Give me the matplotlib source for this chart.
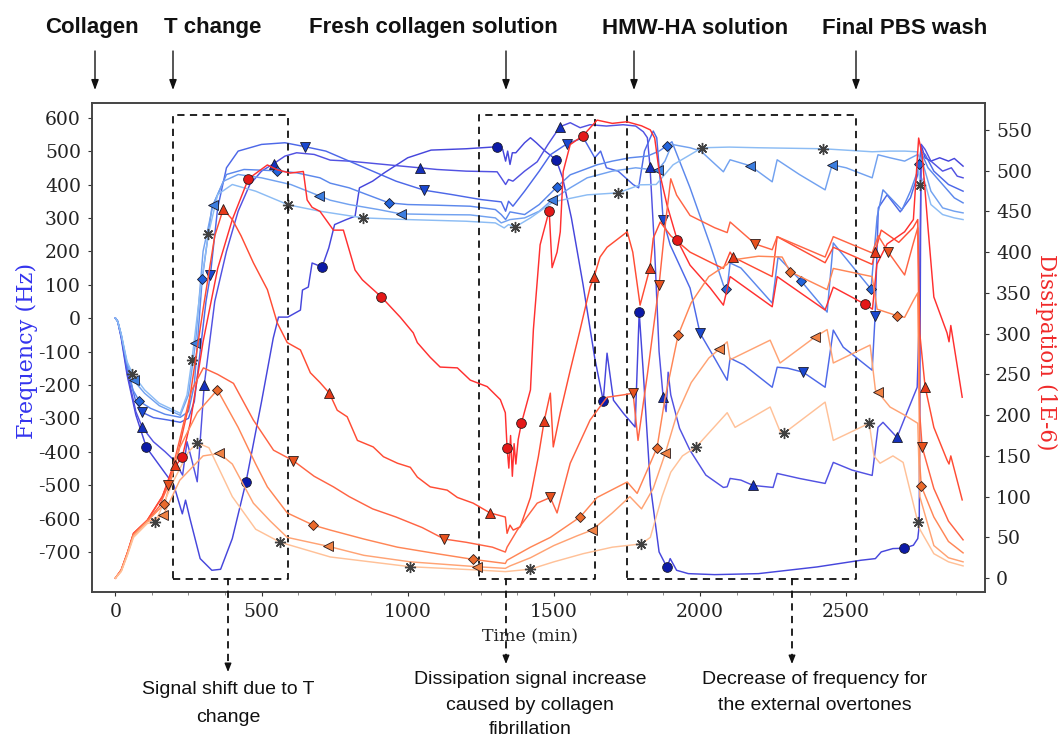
import matplotlib
matplotlib.use("Agg")
import matplotlib.pyplot as plt
from matplotlib.lines import Line2D

plt.rcParams['axes.unicode_minus'] = False

# ---------------- Frequency overtones (Hz) ----------------
f1_t = [0, 8, 20, 40, 70, 106, 150, 200, 229, 240, 255, 290, 330, 360, 400, 447, 500, 540, 558, 590, 633, 640, 660, 673, 707, 730, 750, 790, 820, 835, 880, 920, 1000, 1080, 1200, 1306, 1325, 1335, 1342, 1350, 1358, 1370, 1400, 1420, 1440, 1470, 1508, 1530, 1560, 1600, 1640, 1669, 1682, 1704, 1738, 1778, 1792, 1805, 1830, 1860, 1887, 1898, 1920, 1960, 2050, 2200, 2400, 2550, 2600, 2620, 2660, 2698, 2730, 2745, 2750, 2756, 2770, 2790, 2820, 2850, 2870, 2900]
f1_v = [0, -10, -60, -170, -290, -387, -440, -500, -586, -545, -600, -720, -755, -752, -660, -490, -250, -60, 3, 3, 24, 84, 93, 165, 153, 210, 280, 295, 305, 390, 410, 435, 480, 503, 507, 513, 505, 470, 500, 460, 495, 495, 525, 540, 525, 500, 474, 420, 300, 100, -120, -248, -105, -246, -285, -326, 17, -150, -500, -700, -746, -720, -755, -765, -768, -765, -745, -725, -720, -700, -690, -689, -680, -660, -620, 520, 480, 470, 480, 470, 478, 455]
f1_mt = [106, 447, 707, 1306, 1508, 1669, 1792, 1887, 2698]
f1_mv = [-387, -490, 153, 513, 474, -248, 17, -746, -689]

f2_t = [0, 8, 20, 40, 70, 92, 130, 170, 200, 230, 245, 260, 280, 304, 340, 380, 420, 460, 500, 541, 580, 620, 680, 735, 800, 860, 920, 980, 1041, 1100, 1200, 1306, 1320, 1335, 1345, 1360, 1400, 1443, 1480, 1521, 1556, 1590, 1624, 1680, 1737, 1780, 1806, 1820, 1829, 1845, 1860, 1874, 1884, 1891, 1900, 1930, 1966, 2020, 2080, 2093, 2103, 2140, 2182, 2250, 2264, 2340, 2428, 2456, 2520, 2589, 2609, 2626, 2674, 2700, 2729, 2743, 2750, 2757, 2770, 2790, 2830, 2860, 2880, 2900]
f2_v = [0, -10, -55, -160, -280, -327, -370, -400, -425, -470, -370, -420, -490, -200, 50, 200, 320, 400, 440, 462, 485, 495, 490, 473, 470, 465, 460, 455, 450, 445, 440, 438, 420, 400, 415, 410, 440, 468, 520, 573, 585, 570, 579, 575, 579, 575, 558, 540, 453, 200, -100, -237, -280, -162, -230, -330, -396, -470, -507, -505, -480, -485, -501, -507, -465, -480, -495, -432, -455, -471, -327, -312, -357, -300, -237, -207, 0, 520, 505, 470, 440, 450, 425, 420]
f2_mt = [92, 304, 541, 1041, 1521, 1829, 1874, 2182, 2674]
f2_mv = [-327, -200, 462, 450, 573, 453, -237, -501, -357]

f3_t = [0, 8, 20, 40, 70, 92, 130, 180, 222, 250, 270, 290, 310, 325, 350, 380, 420, 500, 580, 650, 720, 800, 880, 960, 1056, 1150, 1250, 1320, 1335, 1345, 1360, 1400, 1450, 1488, 1545, 1601, 1640, 1660, 1680, 1720, 1771, 1790, 1810, 1840, 1852, 1865, 1874, 1898, 1966, 2000, 2050, 2093, 2103, 2150, 2247, 2264, 2300, 2353, 2428, 2456, 2490, 2589, 2599, 2610, 2640, 2685, 2720, 2745, 2755, 2770, 2800, 2850, 2900]
f3_v = [0, -10, -52, -150, -250, -282, -298, -305, -312, -300, -250, -100, 50, 129, 330, 450, 500, 520, 525, 513, 500, 470, 440, 410, 383, 370, 355, 348, 320, 350, 335, 380, 440, 489, 522, 540, 480, 500, 450, 440, 400, 390, 500, 560, 540, 400, 294, 219, 90, -45, -120, -186, -120, -140, -207, -147, -150, -162, -207, -36, -87, -156, 6, 330, 369, 318, 360, 430, 500, 490, 440, 400, 380]
f3_mt = [92, 325, 650, 1056, 1545, 1874, 2000, 2353, 2599]
f3_mv = [-282, 129, 513, 383, 522, 294, -45, -162, 6]

f4_t = [0, 8, 20, 40, 60, 82, 120, 170, 222, 250, 270, 297, 330, 380, 440, 554, 620, 700, 735, 800, 860, 936, 1000, 1100, 1214, 1300, 1320, 1335, 1350, 1400, 1450, 1511, 1556, 1648, 1700, 1760, 1820, 1860, 1887, 1904, 1966, 2035, 2080, 2089, 2093, 2103, 2140, 2247, 2267, 2346, 2435, 2456, 2585, 2606, 2626, 2691, 2720, 2746, 2760, 2780, 2830, 2870, 2900]
f4_v = [0, -10, -50, -140, -215, -249, -270, -288, -297, -280, -200, 117, 330, 430, 445, 441, 435, 420, 404, 390, 370, 345, 340, 338, 335, 325, 310, 295, 318, 310, 340, 393, 429, 459, 470, 480, 485, 500, 516, 528, 390, 219, 99, 87, 90, 165, 150, 45, 183, 111, 18, 225, 87, 303, 384, 324, 380, 444, 490, 450, 400, 360, 345]
f4_mt = [82, 297, 554, 936, 1511, 1887, 2089, 2346, 2585, 2750]
f4_mv = [-249, 117, 441, 345, 393, 516, 87, 111, 87, 460]

f5_t = [0, 8, 20, 40, 62, 100, 150, 222, 250, 274, 300, 334, 370, 420, 500, 600, 698, 735, 800, 900, 977, 1100, 1214, 1300, 1320, 1335, 1350, 1400, 1450, 1494, 1556, 1614, 1700, 1780, 1830, 1857, 1880, 1904, 1966, 2003, 2080, 2093, 2103, 2172, 2247, 2264, 2340, 2428, 2452, 2500, 2589, 2609, 2650, 2700, 2745, 2760, 2790, 2830, 2870, 2900]
f5_v = [0, -10, -50, -135, -186, -225, -262, -291, -230, -75, 200, 339, 410, 430, 420, 400, 366, 353, 340, 325, 312, 310, 309, 300, 285, 290, 295, 300, 320, 354, 390, 420, 440, 450, 445, 444, 470, 520, 510, 500, 438, 459, 474, 456, 408, 474, 430, 384, 459, 450, 420, 489, 480, 470, 490, 470, 380, 330, 320, 315]
f5_mt = [62, 274, 334, 698, 977, 1494, 1857, 2172, 2452]
f5_mv = [-186, -75, 339, 366, 312, 354, 444, 456, 459]

f6_t = [0, 8, 20, 40, 58, 100, 150, 222, 245, 262, 290, 318, 350, 400, 480, 592, 700, 848, 1000, 1200, 1300, 1330, 1345, 1368, 1420, 1498, 1614, 1720, 1795, 1850, 1908, 2007, 2100, 2200, 2421, 2589, 2650, 2700, 2743, 2753, 2765, 2790, 2830, 2870, 2900]
f6_v = [0, -10, -48, -130, -166, -215, -255, -285, -230, -124, 80, 251, 370, 400, 380, 339, 320, 300, 295, 290, 285, 270, 280, 273, 300, 348, 369, 375, 399, 400, 459, 510, 512, 510, 507, 498, 500, 500, 498, 399, 420, 340, 310, 300, 295]
f6_mt = [58, 262, 318, 592, 848, 1368, 1720, 2007, 2421, 2753]
f6_mv = [-166, -124, 251, 339, 300, 273, 375, 510, 507, 399]

# ---------------- Dissipation overtones (1E-6) ----------------
d1_t = [0, 20, 41, 62, 109, 161, 190, 229, 256, 300, 350, 400, 455, 520, 554, 598, 643, 656, 673, 700, 746, 780, 820, 845, 910, 975, 1019, 1033, 1077, 1111, 1170, 1214, 1272, 1317, 1334, 1340, 1346, 1352, 1358, 1364, 1370, 1378, 1389, 1420, 1430, 1453, 1484, 1494, 1511, 1522, 1532, 1556, 1600, 1648, 1700, 1750, 1800, 1830, 1845, 1860, 1887, 1922, 1966, 2035, 2080, 2103, 2247, 2264, 2428, 2456, 2565, 2590, 2605, 2640, 2700, 2730, 2748, 2760, 2780, 2800, 2845, 2852, 2858, 2897]
d1_v = [0, 10, 31, 55, 71, 100, 130, 149, 190, 290, 380, 440, 490, 507, 501, 497, 499, 464, 455, 450, 427, 427, 378, 366, 345, 320, 301, 289, 271, 259, 258, 243, 235, 219, 203, 160, 135, 175, 125, 165, 140, 170, 190, 231, 305, 409, 451, 381, 400, 425, 499, 532, 543, 562, 558, 560, 555, 550, 540, 500, 458, 415, 384, 356, 335, 370, 333, 370, 329, 357, 336, 330, 385, 410, 425, 440, 540, 520, 430, 345, 301, 290, 310, 222]
d1_mt = [229, 455, 910, 1340, 1389, 1484, 1600, 1922, 2565]
d1_mv = [149, 490, 345, 160, 190, 451, 543, 415, 336]

d2_t = [0, 20, 41, 62, 109, 160, 205, 250, 300, 340, 369, 400, 430, 472, 520, 554, 588, 633, 667, 700, 732, 759, 793, 828, 882, 917, 965, 1009, 1033, 1077, 1135, 1170, 1224, 1282, 1334, 1340, 1350, 1361, 1385, 1420, 1447, 1467, 1488, 1498, 1522, 1556, 1590, 1624, 1638, 1658, 1682, 1751, 1770, 1795, 1829, 1840, 1864, 1900, 1966, 2050, 2080, 2103, 2113, 2247, 2264, 2428, 2456, 2589, 2599, 2620, 2680, 2729, 2745, 2752, 2770, 2800, 2845, 2852, 2858, 2897]
d2_v = [0, 10, 31, 55, 71, 100, 139, 210, 330, 420, 453, 440, 420, 387, 354, 313, 289, 280, 252, 240, 227, 206, 198, 169, 161, 149, 141, 136, 124, 112, 108, 99, 92, 80, 75, 55, 65, 59, 63, 99, 149, 193, 227, 161, 203, 255, 305, 357, 370, 394, 406, 425, 400, 335, 381, 417, 437, 420, 400, 385, 380, 400, 394, 370, 419, 387, 406, 385, 400, 427, 412, 430, 440, 300, 235, 185, 145, 140, 150, 96]
d2_mt = [205, 369, 732, 1282, 1467, 1638, 1829, 2113, 2599, 2770]
d2_mv = [139, 453, 227, 80, 193, 370, 381, 394, 400, 235]

d3_t = [0, 20, 41, 62, 109, 150, 181, 220, 260, 301, 350, 404, 472, 541, 609, 680, 746, 800, 880, 960, 1050, 1125, 1200, 1290, 1334, 1340, 1375, 1443, 1488, 1511, 1556, 1624, 1682, 1740, 1771, 1788, 1820, 1860, 1880, 1900, 1920, 1966, 2050, 2093, 2103, 2189, 2247, 2264, 2428, 2456, 2589, 2610, 2644, 2700, 2729, 2745, 2752, 2760, 2800, 2850, 2900]
d3_v = [0, 10, 31, 54, 70, 88, 114, 170, 230, 258, 250, 239, 194, 157, 144, 125, 112, 100, 85, 75, 62, 48, 44, 38, 32, 38, 59, 92, 99, 80, 141, 194, 222, 225, 227, 169, 250, 360, 430, 490, 470, 445, 430, 424, 437, 410, 403, 419, 394, 419, 399, 420, 400, 372, 410, 430, 200, 161, 110, 70, 47]
d3_mt = [181, 609, 1125, 1488, 1771, 1860, 2189, 2644, 2760]
d3_mv = [114, 144, 48, 99, 227, 360, 410, 400, 161]

d4_t = [0, 20, 41, 62, 109, 168, 220, 280, 349, 420, 480, 520, 588, 677, 735, 850, 965, 1100, 1224, 1334, 1340, 1420, 1488, 1590, 1648, 1751, 1785, 1853, 1880, 1925, 1970, 2030, 2093, 2103, 2200, 2281, 2308, 2435, 2456, 2589, 2606, 2674, 2700, 2729, 2745, 2752, 2757, 2800, 2850, 2900]
d4_v = [0, 9, 30, 53, 70, 91, 160, 203, 231, 185, 140, 112, 80, 65, 59, 48, 38, 30, 23, 18, 22, 38, 50, 75, 99, 118, 104, 160, 220, 298, 338, 370, 385, 390, 395, 394, 376, 354, 380, 370, 330, 322, 320, 340, 350, 140, 113, 75, 45, 31]
d4_mt = [168, 349, 677, 1224, 1590, 1853, 1925, 2308, 2674, 2757]
d4_mv = [91, 231, 65, 23, 75, 160, 298, 376, 322, 113]

d5_t = [0, 20, 41, 62, 109, 164, 220, 300, 356, 400, 472, 530, 588, 729, 850, 1009, 1238, 1334, 1350, 1420, 1500, 1580, 1631, 1700, 1760, 1800, 1840, 1881, 1920, 1970, 2030, 2066, 2093, 2103, 2240, 2274, 2394, 2435, 2456, 2582, 2600, 2609, 2650, 2700, 2745, 2752, 2800, 2850, 2900]
d5_v = [0, 9, 29, 52, 69, 77, 120, 150, 153, 140, 92, 70, 50, 39, 28, 20, 14, 12, 15, 25, 40, 52, 59, 80, 100, 85, 110, 153, 200, 240, 270, 281, 290, 268, 292, 264, 296, 305, 264, 286, 231, 228, 210, 200, 190, 100, 40, 25, 20]
d5_mt = [164, 356, 729, 1238, 1631, 1881, 2066, 2394, 2609]
d5_mv = [77, 153, 39, 14, 59, 153, 281, 296, 228]

d6_t = [0, 20, 41, 62, 109, 137, 200, 250, 280, 320, 400, 480, 564, 735, 1009, 1238, 1334, 1420, 1500, 1600, 1700, 1799, 1830, 1870, 1900, 1940, 1987, 2093, 2120, 2240, 2274, 2288, 2428, 2456, 2579, 2595, 2616, 2660, 2695, 2745, 2752, 2800, 2850, 2900]
d6_v = [0, 8, 28, 50, 67, 69, 120, 155, 166, 160, 100, 60, 44, 26, 14, 10, 8, 11, 20, 30, 38, 42, 50, 100, 130, 150, 161, 203, 185, 210, 180, 178, 216, 169, 190, 150, 141, 150, 142, 69, 60, 30, 20, 15]
d6_mt = [137, 280, 564, 1009, 1420, 1799, 1987, 2288, 2579, 2747]
d6_mv = [69, 166, 44, 14, 11, 42, 161, 178, 190, 69]

# ---------------- Figure ----------------
W, H = 1058, 738
fig = plt.figure(figsize=(W / 100, H / 100), dpi=100)
ax = fig.add_axes([92 / W, 1 - 592 / H, (985 - 92) / W, (592 - 103) / H])
ax2 = ax.twinx()

serif = 'DejaVu Serif'
asterisk = (8, 2, 0)


def marker_style(mk, mc, edge):
    if mk == asterisk:
        return dict(ms=8, mfc=mc, mec=mc, mew=1.0)
    if mk == 'D':
        return dict(ms=5.2, mfc=mc, mec=edge, mew=0.6)
    return dict(ms=7, mfc=mc, mec=edge, mew=0.6)


freq_series = [
    (f1_t, f1_v, f1_mt, f1_mv, '#4646dc', 'o', '#0c1aa8'),
    (f2_t, f2_v, f2_mt, f2_mv, '#5252e2', '^', '#1430bc'),
    (f3_t, f3_v, f3_mt, f3_mv, '#4d68e8', 'v', '#1a48d0'),
    (f4_t, f4_v, f4_mt, f4_mv, '#5c88ec', 'D', '#2264dc'),
    (f5_t, f5_v, f5_mt, f5_mv, '#72a2f0', '<', '#3c7ee0'),
    (f6_t, f6_v, f6_mt, f6_mv, '#8cbcf4', asterisk, '#404040'),
]
for t, v, mt, mv, lc, mk, mc in freq_series:
    ax.plot(t, v, color=lc, lw=1.05, zorder=2)
    ax.plot(mt, mv, ls='none', marker=mk, zorder=4, **marker_style(mk, mc, '#1a1a2a'))

diss_series = [
    (d1_t, d1_v, d1_mt, d1_mv, '#ff3030', 'o', '#e41818'),
    (d2_t, d2_v, d2_mt, d2_mv, '#ff4c34', '^', '#e63a1a'),
    (d3_t, d3_v, d3_mt, d3_mv, '#ff6444', 'v', '#e8521e'),
    (d4_t, d4_v, d4_mt, d4_mv, '#ff8656', 'D', '#ea6a2c'),
    (d5_t, d5_v, d5_mt, d5_mv, '#ffa374', '<', '#f08244'),
    (d6_t, d6_v, d6_mt, d6_mv, '#ffc198', asterisk, '#404040'),
]
for t, v, mt, mv, lc, mk, mc in diss_series:
    ax2.plot(t, v, color=lc, lw=1.05, zorder=2)
    ax2.plot(mt, mv, ls='none', marker=mk, zorder=4, **marker_style(mk, mc, '#2a1a1a'))

# Limits and ticks
ax.set_xlim(-80, 2975)
ax.set_ylim(-820, 644)
ax2.set_ylim(-17, 583)
ax.set_xticks([0, 500, 1000, 1500, 2000, 2500])
ax.set_xticks(range(0, 2976, 125), minor=True)
ax.set_yticks(range(-700, 601, 100))
ax2.set_yticks(range(0, 551, 50))
for a in (ax, ax2):
    a.tick_params(axis='both', which='major', labelsize=13.5, length=3, width=0.8,
                  colors='#333333', labelcolor='#222222', pad=5)
    a.tick_params(axis='both', which='minor', length=2, width=0.6, colors='#777777')
    for lab in a.get_xticklabels() + a.get_yticklabels():
        lab.set_fontfamily(serif)
    for s in a.spines.values():
        s.set_color('#444444')
        s.set_linewidth(1.2)

# Dashed regions of interest
boxes = [(196, 591), (1245, 1641), (1750, 2533)]
for x0, x1 in boxes:
    ax.plot([x0, x1, x1, x0, x0], [-781, -781, 608, 608, -781], color='#111111',
            lw=1.3, ls=(0, (4, 3)), zorder=6)

# Axis labels
fig.text(530 / W, 1 - 637 / H, 'Time (min)', ha='center', va='center', fontsize=12.5,
         family=serif, color='#222222')
fig.text(27 / W, 1 - 351 / H, 'Frequency (Hz)', ha='center', va='center', rotation=90,
         fontsize=16, family=serif, color='#3434ee')
fig.text(1046 / W, 1 - 352 / H, 'Dissipation (1E-6)', ha='center', va='center', rotation=270,
         fontsize=15.5, family=serif, color='#f02a2a')

# Stage annotations along the top
top_labels = [('Collagen', 92, 95), ('T change', 213, 173), ('Fresh collagen solution', 433, 506),
              ('HMW-HA solution', 695, 634), ('Final PBS wash', 905, 856)]
for txt, xt, xa in top_labels:
    fig.text(xt / W, 1 - 28 / H, txt, ha='center', va='center', fontsize=16,
             family='Liberation Sans', fontweight='bold', color='#111111')
    ax.annotate('', xy=(xa, H - 90), xytext=(xa, H - 51), xycoords='figure pixels',
                textcoords='figure pixels',
                arrowprops=dict(arrowstyle='-|>,head_length=0.6,head_width=0.22',
                                color='#111111', lw=1.0, shrinkA=0, shrinkB=0))

# Explanatory notes below the axes
notes = [(228, 672, ['Signal shift due to T', 'change'], [690, 717]),
         (506, 664, ['Dissipation signal increase', 'caused by collagen', 'fibrillation'], [680, 705, 729]),
         (792, 664, ['Decrease of frequency for', 'the external overtones'], [680, 705])]
note_x = [228, 530, 815]
for (xa, ya, lines, ys), xc in zip(notes, note_x):
    fig.add_artist(Line2D([xa / W, xa / W], [1 - 578 / H, 1 - (ya - 6) / H], color='#111111',
                          lw=1.3, ls=(0, (4, 3))))
    ax.annotate('', xy=(xa, H - ya), xytext=(xa, H - ya + 8), xycoords='figure pixels',
                textcoords='figure pixels',
                arrowprops=dict(arrowstyle='-|>,head_length=0.5,head_width=0.2',
                                color='#111111', lw=1.0, shrinkA=0, shrinkB=0))
    for ln, yl in zip(lines, ys):
        fig.text(xc / W, 1 - yl / H, ln, ha='center', va='center', fontsize=14,
                 family='Liberation Sans', color='#111111')

fig.savefig('out.png', dpi=100)
